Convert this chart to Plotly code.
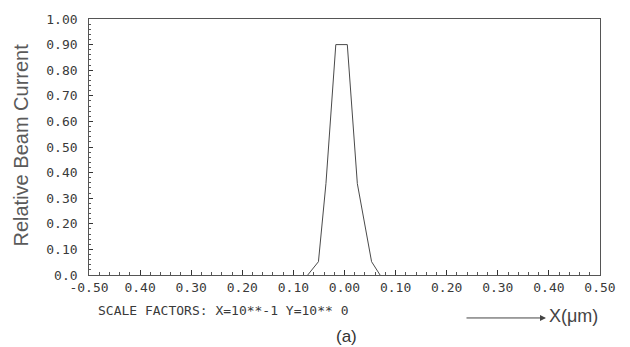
import plotly.graph_objects as go

# Data
x_um = [-0.072, -0.051, -0.0363, -0.017, 0.0055, 0.0251, 0.053, 0.0696]
beam = [0.0, 0.052, 0.357, 0.90, 0.90, 0.357, 0.052, 0.0]

y_tickvals = [0.0, 0.1, 0.2, 0.3, 0.4, 0.5, 0.6, 0.7, 0.8, 0.9, 1.0]
y_ticktext = ["0.0", "0.10", "0.20", "0.30", "0.40", "0.50", "0.60", "0.70", "0.80", "0.90", "1.00"]
x_tickvals = [-0.5, -0.4, -0.3, -0.2, -0.1, 0.0, 0.1, 0.2, 0.3, 0.4, 0.5]
x_ticktext = ["-0.50", "0.40", "0.30", "0.20", "0.10", "0.00", "0.10", "0.20", "0.30", "0.40", "0.50"]

mono = "DejaVu Sans Mono"
sans = "Liberation Sans, Arial, sans-serif"
ink = "#3a3a3a"

fig = go.Figure()
fig.add_trace(go.Scatter(x=x_um, y=beam, mode="lines",
                         line=dict(color="#4a4a4a", width=1), showlegend=False,
                         hoverinfo="skip"))

W, H = 630, 347
ml, mr, mt, mb = 89, 30, 17, 72
pw, ph = W - ml - mr, H - mt - mb

def px(xp):
    return (xp - ml) / pw

def py(yp):
    return (H - mb - yp) / ph

fig.update_layout(
    width=W, height=H,
    margin=dict(l=ml, r=mr, t=mt, b=mb),
    paper_bgcolor="white", plot_bgcolor="white",
    xaxis=dict(range=[-0.5, 0.5], tickmode="array", tickvals=x_tickvals, ticktext=x_ticktext,
               showgrid=False, zeroline=False, showline=True, linecolor="#555",
               linewidth=1, mirror=True, ticks="inside", ticklen=5, tickwidth=1,
               tickcolor="#333",
               tickfont=dict(family=mono, size=13, color=ink),
               minor=dict(ticks="inside", ticklen=3, tickwidth=1,
                          tick0=0, dtick=0.02, tickcolor="#555", showgrid=False)),
    yaxis=dict(range=[0, 1], tickmode="array", tickvals=y_tickvals,
               ticktext=[t + "\u00a0" for t in y_ticktext],
               showgrid=False, zeroline=False, showline=True, linecolor="#555",
               linewidth=1, mirror=True, ticks="inside", ticklen=4, tickwidth=1,
               tickcolor="#333",
               tickfont=dict(family=mono, size=13, color=ink),
               minor=dict(ticks="inside", ticklen=2, tickwidth=1,
                          tick0=0, dtick=0.02, tickcolor="#555", showgrid=False)),
    annotations=[
        dict(text="Relative Beam Current", xref="paper", yref="paper",
             x=px(21), y=py(144.5), textangle=-90, showarrow=False,
             xanchor="center", yanchor="middle",
             font=dict(family=sans, size=20, color="#5a5a5a")),
        dict(text="SCALE FACTORS: X=10**-1 Y=10** 0", xref="paper", yref="paper",
             x=px(96), y=py(310.7), showarrow=False, xanchor="left", yanchor="middle",
             font=dict(family=mono, size=13, color=ink)),
        dict(text="(a)", xref="paper", yref="paper", x=px(346), y=py(337),
             showarrow=False, xanchor="center", yanchor="middle",
             font=dict(family=sans, size=17, color="#333")),
        dict(text="", xref="paper", yref="paper", x=px(546), y=py(318.3),
             ax=-81, ay=0, axref="pixel", ayref="pixel", showarrow=True,
             arrowhead=2, arrowsize=1.2, arrowwidth=1, arrowcolor="#444"),
        dict(text="X(μm)", xref="paper", yref="paper", x=px(547), y=py(316.7),
             showarrow=False, xanchor="left", yanchor="middle",
             font=dict(family=sans, size=18, color="#444")),
    ],
)

fig.write_html("out.html")
